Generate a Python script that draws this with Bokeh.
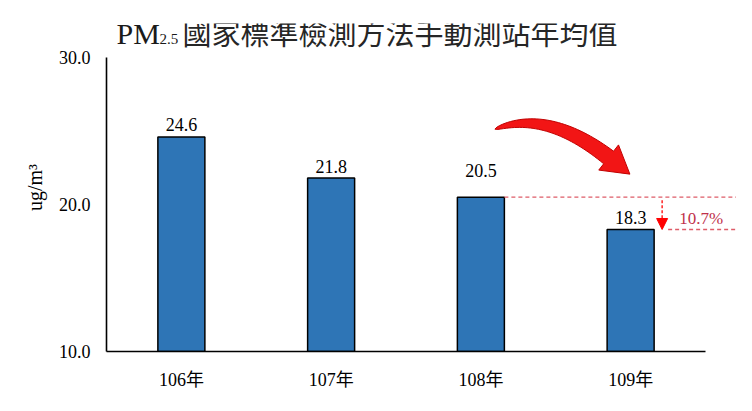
import numpy as np
from bokeh.plotting import figure
from bokeh.models import (Range1d, FixedTicker, PrintfTickFormatter, Label, Arrow,
                          NormalHead, ColumnDataSource)
from bokeh.embed import file_html
from bokeh.resources import INLINE

# ---------------- data ----------------
years = ["106年", "107年", "108年", "109年"]
pm25 = [24.6, 21.8, 20.5, 18.3]
y_ticks = [10.0, 20.0, 30.0]
title_main = "PM"
title_sub = "2.5"
title_rest = "國家標準檢測方法手動測站年均值"
unit_label = "ug/m³"
change_label = "10.7%"

# ---------------- layout ----------------
W, H = 736, 395
LEFT, BOTTOM, TOP = 106, 44, 23
AXIS_Y = H - BOTTOM            # pixel row of the x axis
FW, FH = W - LEFT, H - BOTTOM - TOP
PX_PER_CAT = 149.75
PX_PER_UNIT = 14.7
Y0 = 10.0
Y_TOP = 30.0
x_end = FW / PX_PER_CAT
y_end = Y0 + FH / PX_PER_UNIT

def sx(u):
    return LEFT + u * PX_PER_CAT

def sy(v):
    return AXIS_Y - (v - Y0) * PX_PER_UNIT

def ux(px):
    return (px - LEFT) / PX_PER_CAT

def vy(py):
    return Y0 + (AXIS_Y - py) / PX_PER_UNIT

SERIF = "'Liberation Serif', 'Noto Sans CJK TC'"
BAR_W = 47 / PX_PER_CAT

p = figure(width=W, height=H, x_range=Range1d(0, x_end), y_range=Range1d(Y0, y_end),
           output_backend="svg", toolbar_location=None,
           min_border_left=LEFT, min_border_bottom=BOTTOM, min_border_top=TOP, min_border_right=0)
p.outline_line_color = None
p.xgrid.visible = False
p.ygrid.visible = False
p.background_fill_color = "white"
p.border_fill_color = "white"

xs = [i + 0.5 for i in range(len(years))]

# axes
xa = p.xaxis[0]
xa.ticker = FixedTicker(ticks=xs)
xa.major_label_overrides = {x: y for x, y in zip(xs, years)}
xa.bounds = (0, len(years))
ya = p.yaxis[0]
ya.ticker = FixedTicker(ticks=y_ticks)
ya.formatter = PrintfTickFormatter(format="%.1f")
ya.bounds = (Y0, Y_TOP)
for ax in (xa, ya):
    ax.axis_line_color = "black"
    ax.axis_line_width = 1.6
    ax.major_tick_line_color = None
    ax.minor_tick_line_color = None
    ax.major_tick_out = 0
    ax.major_tick_in = 0
    ax.major_label_text_font = SERIF
    ax.major_label_text_font_size = "18px"
    ax.major_label_text_color = "black"
xa.major_label_standoff = 18
ya.major_label_standoff = 16
ya.axis_label = unit_label
ya.axis_label_text_font = SERIF
ya.axis_label_text_font_size = "20px"
ya.axis_label_text_font_style = "normal"
ya.axis_label_text_color = "black"
ya.axis_label_standoff = 10

# bars
src = ColumnDataSource(dict(x=xs, top=pm25, lab=[f"{v:.1f}" for v in pm25],
                            off=[-12, -12, -27, -12]))
p.vbar(x="x", top="top", bottom=Y0, width=BAR_W, source=src,
       fill_color="#2e75b6", line_color="black", line_width=1.5)
p.text(x="x", y="top", text="lab", y_offset="off", source=src,
       text_align="center", text_baseline="alphabetic",
       text_font=SERIF, text_font_size="18px", text_color="black")

# change annotation
RED_DASH = "#de5c68"
x3_right = xs[2] + BAR_W / 2
x4_right = xs[3] + BAR_W / 2
arrow_x = x4_right + 8 / PX_PER_CAT
p.segment(x0=[x3_right], y0=[pm25[2]], x1=[x_end], y1=[pm25[2]],
          line_color=RED_DASH, line_dash="4 3", line_width=1.3)
p.segment(x0=[arrow_x + 6 / PX_PER_CAT], y0=[pm25[3]], x1=[x_end], y1=[pm25[3]],
          line_color=RED_DASH, line_dash="4 3", line_width=1.3)
p.add_layout(Arrow(x_start=arrow_x, y_start=pm25[2] - 3 / PX_PER_UNIT,
                   x_end=arrow_x, y_end=pm25[3],
                   line_color="#ff0000", line_width=1.3, line_dash="3 2",
                   end=NormalHead(size=11, fill_color="#ff0000", line_color="#ff0000", line_width=1)))
p.add_layout(Label(x=arrow_x, y=(pm25[2] + pm25[3]) / 2, x_offset=17, y_offset=-5,
                   text=change_label, text_font=SERIF, text_font_size="17px",
                   text_color="#c0304a", text_baseline="middle", text_align="left"))

# curved red arrow from 108 to 109 (pixel geometry anchored to bar tops)
A = np.array([sx(xs[2]), sy(pm25[2])])
B = np.array([sx(xs[3]), sy(pm25[3])])
P0 = A + np.array([14.0, -68.0])
P1 = A + np.array([66.0, -88.0])
P2 = B + np.array([-22.0, -72.0])
t = np.linspace(0, 1, 40)
C = ((1 - t) ** 2)[:, None] * P0 + (2 * (1 - t) * t)[:, None] * P1 + (t ** 2)[:, None] * P2
D = (2 * (1 - t))[:, None] * (P1 - P0) + (2 * t)[:, None] * (P2 - P1)
D = D / np.linalg.norm(D, axis=1)[:, None]
N = np.stack([-D[:, 1], D[:, 0]], axis=1)
wdt = 8.0 * np.sqrt(t)
upper = C + wdt[:, None] * N
lower = C - wdt[:, None] * N
d_end = D[-1]
n_end = N[-1]
tip = P2 + 27 * d_end
barb1 = P2 + 16 * n_end
barb2 = P2 - 16 * n_end
poly = np.vstack([upper, barb1[None, :], tip[None, :], barb2[None, :], lower[::-1]])
p.patch(x=[ux(q[0]) for q in poly], y=[vy(q[1]) for q in poly],
        fill_color="#f21515", line_color="#c00000", line_width=1)

# title (mixed fonts with subscript); screen y measured up from the x axis
p.add_layout(Label(x=10, y=318, x_units="screen", y_units="screen", text=title_main,
                   text_font="'Liberation Serif'", text_font_size="30px", text_color="#1a1a1a",
                   text_baseline="alphabetic"))
p.add_layout(Label(x=53, y=313, x_units="screen", y_units="screen", text=title_sub,
                   text_font="'Liberation Serif'", text_font_size="15px", text_color="#1a1a1a",
                   text_baseline="alphabetic"))
p.add_layout(Label(x=76, y=320, x_units="screen", y_units="screen", text=title_rest,
                   text_font="'Noto Sans CJK TC'", text_font_size="29px", text_color="#262626",
                   text_baseline="middle"))

open("out.html", "w").write(file_html(p, INLINE))
